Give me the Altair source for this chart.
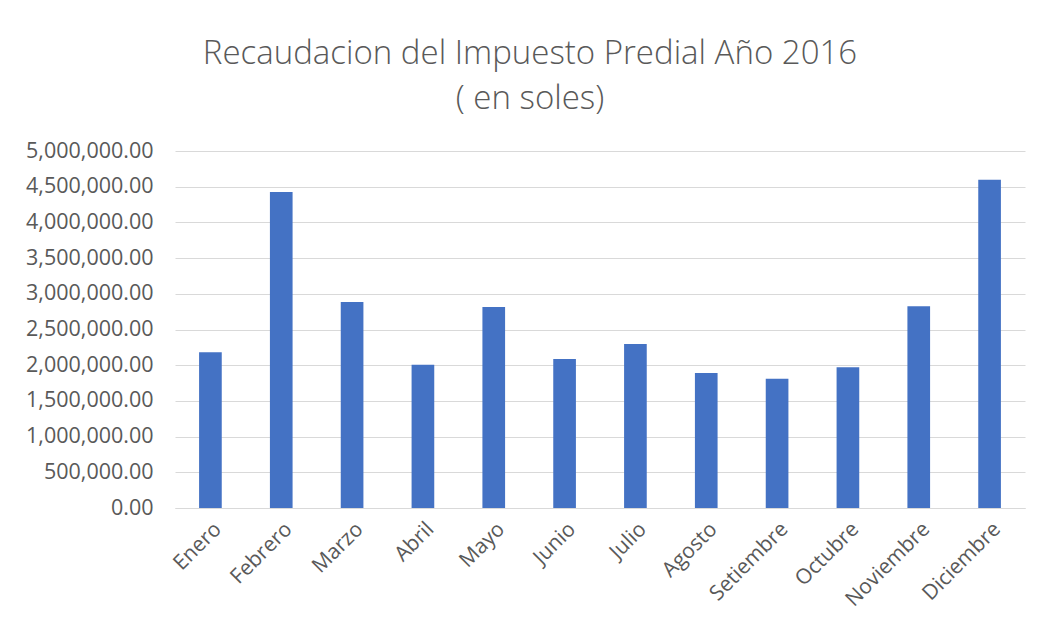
import altair as alt
import pandas as pd

meses = ["Enero", "Febrero", "Marzo", "Abril", "Mayo", "Junio", "Julio",
         "Agosto", "Setiembre", "Octubre", "Noviembre", "Diciembre"]
recaudacion = [2180000, 4426000, 2885000, 2007000, 2815000, 2087000,
               2297000, 1891000, 1811000, 1970000, 2824000, 4598000]
y_ticks = [0, 500000, 1000000, 1500000, 2000000, 2500000, 3000000,
           3500000, 4000000, 4500000, 5000000]
titulo = ["Recaudacion del Impuesto Predial Año 2016", "( en soles)"]

df = pd.DataFrame({"mes": meses, "valor": recaudacion})

FONT = "Open Sans"
GRAY = "#595959"

chart = alt.Chart(df).mark_bar(color="#4472C4").encode(
    x=alt.X("mes:N", sort=meses, title=None,
            scale=alt.Scale(paddingInner=0.68, paddingOuter=0.34),
            axis=alt.Axis(labelAngle=-45, labelFontSize=21, labelFont=FONT,
                          labelColor=GRAY, ticks=False, domainColor="#d9d9d9",
                          domainWidth=1, labelPadding=10, grid=False)),
    y=alt.Y("valor:Q", title=None,
            scale=alt.Scale(domain=[0, 5000000], nice=False),
            axis=alt.Axis(values=y_ticks, format=",.2f", labelFontSize=21.5,
                          labelFont=FONT, labelColor=GRAY, ticks=False,
                          domain=False, gridColor="#d9d9d9", gridWidth=1,
                          labelPadding=22)),
).properties(
    width=850,
    height=357,
    title=alt.Title(titulo, fontSize=33, font=FONT, fontWeight=300,
                    color=GRAY, lineHeight=45, anchor="middle", dx=-70,
                    offset=24),
    autosize=alt.AutoSizeParams(type="none"),
    padding={"left": 167, "top": 143, "right": 8, "bottom": 110},
).configure(background="white").configure_view(stroke=None, strokeWidth=0)

chart.save("out.html", embed_options={"renderer": "svg", "actions": False})
